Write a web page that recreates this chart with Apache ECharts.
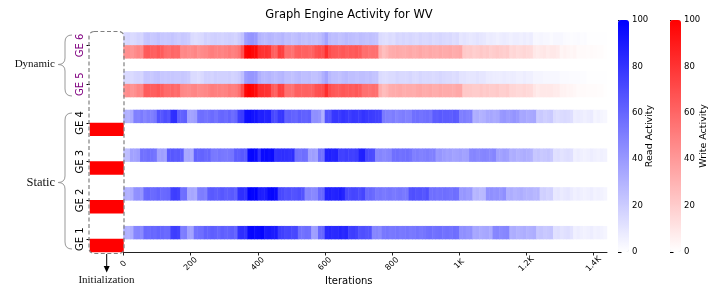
<!DOCTYPE html>
<html>
<head>
	<meta charset="utf-8">
	<title>graph engine activity</title>
	<style>
		html, body, #chart {
			margin: 0;
			padding: 0;
			width: 720px;
			height: 287px;
			background: #fff;
		}
	</style>
	<script src="https://cdn.jsdelivr.net/npm/echarts@6.0.0/dist/echarts.min.js"></script>
</head>
<body>
<div id="chart"></div>
<script>

// heatmap rows, top to bottom: read / write / gap for each GE
var rowNames = ['GE6 R', 'GE6 W', 'g6', 'GE5 R', 'GE5 W', 'g5', 'GE4 R', 'GE4 W', 'g4',
	'GE3 R', 'GE3 W', 'g3', 'GE2 R', 'GE2 W', 'g2', 'GE1 R', 'GE1 W'];

// iteration bins (10 iterations each, 0 .. 1430)
var iterBins = [];
for (var b = 0; b < 144; b++) iterBins.push(b * 10);

var xTicks = [0, 200, 400, 600, 800, 1000, 1200, 1400];
var geNames = ['GE 1', 'GE 2', 'GE 3', 'GE 4', 'GE 5', 'GE 6'];
var geTickPos = [1, 4, 7, 10, 13, 16];
var geColors = ['#000', '#000', '#000', '#000', '#800080', '#800080'];

var ge6Read = [
	15, 16, 14, 15, 17, 16, 22, 23, 21, 22, 24, 22,
	21, 22, 23, 21, 20, 22, 21, 20, 14, 13, 14, 15,
	18, 17, 18, 19, 18, 17, 18, 19, 18, 17, 20, 24,
	38, 41, 42, 40, 30, 28, 27, 29, 28, 26, 27, 29,
	25, 26, 24, 25, 27, 25, 24, 26, 25, 24, 26, 30,
	36, 27, 25, 26, 24, 25, 27, 26, 25, 24, 26, 25,
	24, 25, 24, 23, 14, 13, 12, 14, 13, 16, 15, 16,
	15, 16, 15, 14, 16, 15, 15, 16, 14, 15, 16, 15,
	14, 15, 13, 14, 10, 11, 10, 9, 10, 11, 10, 9,
	7, 8, 7, 6, 7, 8, 7, 6, 7, 7, 6, 7,
	6, 7, 3, 3, 4, 3, 3, 2, 3, 3, 3, 2,
	1.5, 1, 1.5, 2, 1, 1.5, 0.5, 0.5, 0.3, 0.5, 0.3, 0.2
];
var ge6Write = [
	43, 44, 42, 45, 48, 46, 64, 65, 63, 62, 66, 64,
	58, 57, 60, 58, 59, 46, 47, 45, 46, 48, 44, 46,
	47, 50, 51, 49, 50, 48, 50, 52, 49, 51, 55, 68,
	98, 100, 97, 96, 82, 80, 81, 79, 63, 61, 76, 74,
	56, 57, 55, 62, 63, 61, 62, 60, 62, 68, 70, 69,
	82, 70, 66, 65, 64, 66, 63, 65, 64, 66, 64, 56,
	57, 55, 56, 56, 31, 25, 28, 32, 33, 34, 33, 32,
	33, 34, 32, 33, 35, 33, 32, 34, 33, 32, 34, 33,
	33, 34, 32, 33, 34, 21, 20, 21, 19, 20, 22, 20,
	21, 19, 20, 21, 20, 19, 20, 15, 16, 14, 15, 16,
	15, 14, 9, 8, 9, 10, 8, 9, 9, 8, 4, 5,
	4, 3, 4, 2, 2, 2, 1.5, 2, 1.5, 1, 1, 0.5
];
var ge5Read = [
	15, 15, 14, 16, 17, 16, 22, 22, 21, 23, 24, 22,
	21, 22, 22, 21, 21, 22, 21, 20, 14, 14, 13, 15,
	18, 18, 17, 19, 18, 18, 18, 19, 17, 18, 20, 25,
	39, 41, 41, 40, 31, 28, 28, 29, 27, 26, 28, 29,
	25, 25, 24, 26, 27, 25, 25, 26, 24, 24, 26, 31,
	36, 28, 25, 25, 24, 26, 27, 25, 25, 24, 25, 25,
	24, 25, 23, 23, 14, 13, 13, 14, 14, 16, 15, 15,
	15, 16, 14, 14, 16, 15, 15, 15, 14, 15, 16, 15,
	14, 14, 13, 14, 11, 11, 10, 10, 10, 11, 10, 10,
	8, 8, 7, 7, 7, 8, 7, 7, 7, 6, 6, 7,
	6, 6, 4, 4, 4, 3, 3, 3, 3, 3, 2, 2,
	2, 1.5, 1.5, 1.5, 1, 1, 0.5, 0.5, 0.3, 0.3, 0.2, 0.2
];
var ge5Write = [
	43, 45, 42, 44, 48, 47, 64, 64, 63, 63, 66, 63,
	58, 58, 60, 57, 59, 47, 46, 45, 47, 48, 45, 46,
	47, 49, 51, 50, 50, 48, 49, 52, 50, 51, 56, 69,
	97, 100, 98, 95, 82, 81, 80, 79, 64, 61, 75, 74,
	56, 56, 55, 62, 62, 61, 62, 61, 62, 68, 69, 70,
	82, 70, 66, 64, 64, 66, 64, 65, 63, 66, 64, 56,
	56, 55, 57, 56, 31, 26, 28, 32, 33, 33, 34, 32,
	33, 33, 32, 34, 35, 33, 33, 34, 32, 32, 34, 33,
	33, 33, 32, 34, 34, 21, 21, 21, 20, 20, 22, 20,
	21, 20, 20, 21, 19, 19, 20, 16, 16, 15, 15, 16,
	15, 14, 10, 8, 9, 9, 9, 9, 8, 8, 5, 5,
	4, 4, 3, 2, 2, 2, 1.5, 1.5, 1.5, 1, 1, 0.5
];
var ge4Read = [
	31, 30, 33, 50, 49, 52, 48, 51, 50, 53, 68, 66,
	70, 67, 81, 82, 62, 61, 63, 37, 36, 38, 56, 57,
	55, 56, 58, 55, 59, 60, 58, 61, 57, 60, 75, 77,
	94, 95, 93, 92, 87, 88, 86, 87, 72, 70, 78, 79,
	62, 63, 61, 60, 64, 62, 61, 63, 43, 44, 42, 31,
	68, 67, 78, 79, 77, 80, 78, 76, 79, 78, 77, 80,
	78, 77, 76, 75, 74, 52, 50, 49, 51, 48, 50, 51,
	49, 50, 56, 57, 55, 56, 57, 55, 64, 63, 65, 64,
	64, 63, 65, 64, 50, 51, 49, 50, 31, 32, 30, 31,
	34, 35, 33, 34, 40, 41, 39, 40, 42, 40, 34, 35,
	33, 34, 35, 20, 21, 19, 20, 21, 14, 13, 14, 15,
	14, 13, 7, 8, 7, 6, 7, 8, 4, 5, 4, 3
];
var ge3Read = [
	25, 26, 37, 36, 38, 56, 55, 57, 56, 54, 37, 38,
	36, 65, 66, 64, 65, 63, 34, 35, 33, 62, 60, 61,
	59, 60, 53, 52, 54, 53, 52, 53, 54, 64, 63, 65,
	64, 97, 98, 96, 81, 96, 97, 95, 96, 80, 81, 82,
	81, 80, 82, 56, 55, 57, 56, 37, 38, 36, 56, 55,
	87, 88, 86, 87, 75, 74, 76, 75, 74, 76, 87, 88,
	72, 71, 70, 47, 48, 46, 47, 48, 56, 57, 55, 56,
	57, 55, 50, 51, 49, 50, 51, 49, 50, 40, 41, 39,
	37, 38, 36, 37, 38, 36, 37, 47, 48, 46, 47, 48,
	47, 46, 48, 37, 36, 38, 37, 31, 32, 30, 31, 32,
	31, 30, 22, 23, 21, 22, 23, 21, 12, 13, 11, 12,
	13, 12, 6, 7, 6, 5, 6, 7, 6, 5, 6, 5
];
var ge2Read = [
	31, 30, 32, 43, 44, 42, 59, 60, 58, 59, 61, 58,
	59, 60, 75, 76, 74, 56, 57, 34, 35, 33, 50, 51,
	49, 64, 65, 63, 64, 66, 63, 64, 65, 62, 81, 82,
	80, 100, 99, 100, 89, 88, 90, 97, 98, 96, 72, 71,
	68, 69, 67, 68, 70, 67, 47, 48, 46, 47, 59, 60,
	87, 88, 86, 87, 89, 86, 72, 71, 73, 72, 70, 73,
	59, 60, 58, 53, 54, 52, 53, 54, 52, 53, 54, 52,
	53, 68, 69, 67, 68, 66, 69, 56, 57, 55, 56, 57,
	56, 55, 57, 56, 40, 41, 39, 40, 28, 29, 27, 28,
	43, 44, 42, 43, 41, 44, 31, 32, 30, 31, 32, 30,
	29, 30, 28, 29, 18, 19, 17, 18, 9, 10, 8, 9,
	10, 8, 6, 7, 6, 5, 6, 7, 5, 6, 5, 4
];
var ge1Read = [
	31, 30, 32, 47, 48, 46, 59, 58, 60, 59, 61, 60,
	58, 59, 75, 76, 74, 50, 51, 37, 36, 55, 56, 57,
	62, 61, 63, 62, 60, 63, 61, 62, 63, 60, 81, 82,
	80, 97, 98, 96, 97, 98, 90, 91, 89, 90, 76, 75,
	72, 73, 71, 72, 56, 55, 57, 56, 37, 38, 59, 60,
	84, 85, 83, 84, 86, 83, 85, 75, 76, 74, 68, 69,
	67, 68, 47, 48, 46, 53, 54, 52, 53, 54, 52, 53,
	54, 52, 53, 55, 53, 54, 56, 57, 55, 56, 57, 55,
	56, 55, 57, 56, 43, 44, 42, 43, 34, 35, 33, 34,
	35, 33, 47, 48, 46, 47, 48, 31, 32, 30, 31, 32,
	30, 31, 32, 22, 23, 21, 22, 23, 12, 13, 11, 12,
	13, 11, 6, 7, 6, 5, 6, 7, 5, 6, 5, 4
];
// initialization write activity of the static engines (GE4 .. GE1)
var staticInit = [100, 100, 100, 100];

var readRows = [ge6Read, ge5Read, ge4Read, ge3Read, ge2Read, ge1Read];
var readRowIdx = [0, 3, 6, 9, 12, 15];
var writeRows = [ge6Write, ge5Write];
var writeRowIdx = [1, 4];
var initRowIdx = [7, 10, 13, 16];

function cells (rows, rowIdx) {
	var out = [];
	rows.forEach(function (vals, k) {
		vals.forEach(function (v, i) {
			out.push([i, rowIdx[k], v]);
		});
	});
	return out;
}

var initCells = staticInit.map(function (v, k) {
	return [0, initRowIdx[k], v];
});

// curly brace opening to the right: ends at x = 72, tip at x = 58
function brace (top, mid, bottom) {
	var s = { fill: 'none', stroke: '#999', lineWidth: 1 };
	var xe = 72, xs = 65, xt = 58;
	return [
		{ type: 'bezierCurve', z: 100, shape: { x1: xe, y1: top, cpx1: xs, cpy1: top, x2: xs, y2: top + 7 }, style: s },
		{ type: 'line', z: 100, shape: { x1: xs, y1: top + 7, x2: xs, y2: mid - 6.5 }, style: s },
		{ type: 'bezierCurve', z: 100, shape: { x1: xs, y1: mid - 6.5, cpx1: xs, cpy1: mid, x2: xt, y2: mid }, style: s },
		{ type: 'bezierCurve', z: 100, shape: { x1: xt, y1: mid, cpx1: xs, cpy1: mid, x2: xs, y2: mid + 6.5 }, style: s },
		{ type: 'line', z: 100, shape: { x1: xs, y1: mid + 6.5, x2: xs, y2: bottom - 7 }, style: s },
		{ type: 'bezierCurve', z: 100, shape: { x1: xs, y1: bottom - 7, cpx1: xs, cpy1: bottom, x2: xe, y2: bottom }, style: s }
	];
}

var font = 'DejaVu Sans';
var serif = 'Liberation Serif';

var chart = echarts.init(document.getElementById('chart'));

var hidden = { show: false };

chart.setOption({
	animation: false,
	backgroundColor: '#fff',
	title: {
		text: 'Graph Engine Activity for WV',
		left: 344,
		textAlign: 'center',
		top: 4,
		textStyle: { fontFamily: font, fontSize: 11.5, fontWeight: 'normal', color: '#000' }
	},
	grid: [
		{ left: 123.5, top: 32.5, width: 483.5, height: 219.5, containLabel: false, outerBoundsMode: 'none' },
		{ left: 90, top: 32.5, width: 33.5, height: 219.5, containLabel: false, outerBoundsMode: 'none' },
		{ left: 618, top: 20, width: 11, height: 232, containLabel: false, outerBoundsMode: 'none' },
		{ left: 670, top: 20, width: 11, height: 232, containLabel: false, outerBoundsMode: 'none' }
	],
	xAxis: [
		{ type: 'category', gridIndex: 0, data: iterBins, position: 'bottom', show: false },
		{
			type: 'value', gridIndex: 0, min: 0, max: 1440, position: 'bottom',
			name: 'Iterations', nameLocation: 'middle', nameGap: 24, nameMoveOverlap: false,
			nameTextStyle: { fontFamily: font, fontSize: 10, color: '#000', padding: [0, 33, 0, 0] },
			axisLine: { show: true, onZero: false, lineStyle: { color: '#222', width: 1 } },
			axisTick: { show: true, customValues: xTicks, length: 3.5, lineStyle: { color: '#222' } },
			axisLabel: {
				customValues: xTicks, rotate: 45, margin: 12, showMinLabel: true,
				align: 'center', verticalAlign: 'middle',
				fontFamily: font, fontSize: 8, color: '#000',
				formatter: function (v) { return v >= 1000 ? (v / 1000) + 'K' : String(v); }
			},
			splitLine: hidden
		},
		{ type: 'category', gridIndex: 1, data: ['init'], show: false },
		{ type: 'value', gridIndex: 2, show: false },
		{ type: 'value', gridIndex: 3, show: false }
	],
	yAxis: [
		{ type: 'category', gridIndex: 0, data: rowNames, inverse: true, show: false },
		{ type: 'category', gridIndex: 1, data: rowNames, inverse: true, show: false },
		{
			type: 'value', gridIndex: 1, min: 0, max: 17, position: 'left',
			axisLine: hidden,
			splitLine: hidden,
			axisTick: { show: true, customValues: geTickPos, length: 3.5, lineStyle: { color: '#000' } },
			axisLabel: {
				customValues: geTickPos, rotate: 90, margin: 5,
				fontFamily: font, fontSize: 10,
				formatter: function (v) { return geNames[geTickPos.indexOf(v)]; },
				color: function (v) { return geColors[geTickPos.indexOf(+v)]; }
			}
		},
		{
			type: 'value', gridIndex: 2, min: 0, max: 100, interval: 20, position: 'right',
			name: 'Read Activity', nameLocation: 'middle', nameRotate: 90, nameGap: 16, nameMoveOverlap: false,
			nameTextStyle: { fontFamily: font, fontSize: 9.5, color: '#000' },
			axisLine: hidden, splitLine: hidden,
			axisTick: { show: true, length: 3.5, lineStyle: { color: '#000' } },
			axisLabel: { margin: 3, fontFamily: font, fontSize: 8.5, color: '#000' }
		},
		{
			type: 'value', gridIndex: 3, min: 0, max: 100, interval: 20, position: 'right',
			name: 'Write Activity', nameLocation: 'middle', nameRotate: 90, nameGap: 17.5, nameMoveOverlap: false,
			nameTextStyle: { fontFamily: font, fontSize: 9.5, color: '#000' },
			axisLine: hidden, splitLine: hidden,
			axisTick: { show: true, length: 3.5, lineStyle: { color: '#000' } },
			axisLabel: { margin: 3, fontFamily: font, fontSize: 8.5, color: '#000' }
		}
	],
	visualMap: [
		{
			type: 'continuous', seriesIndex: 0, min: 0, max: 100,
			inRange: { color: ['#ffffff', '#0000ff'] },
			left: 618, top: 20, itemWidth: 11, itemHeight: 232,
			calculable: false, padding: 0, hoverLink: false
		},
		{
			type: 'continuous', seriesIndex: [1, 2], min: 0, max: 100,
			inRange: { color: ['#ffffff', '#ff0000'] },
			left: 670, top: 20, itemWidth: 11, itemHeight: 232,
			calculable: false, padding: 0, hoverLink: false
		}
	],
	series: [
		{ type: 'heatmap', name: 'read', xAxisIndex: 0, yAxisIndex: 0, data: cells(readRows, readRowIdx) },
		{ type: 'heatmap', name: 'write', xAxisIndex: 0, yAxisIndex: 0, data: cells(writeRows, writeRowIdx) },
		{ type: 'heatmap', name: 'init', xAxisIndex: 2, yAxisIndex: 1, data: initCells }
	],
	graphic: [
		{
			type: 'rect', z: 100,
			shape: { x: 89, y: 31.5, width: 35, height: 222, r: 5 },
			style: { fill: 'none', stroke: '#808080', lineWidth: 1.2, lineDash: [4, 2.5] }
		},
		{
			type: 'text', z: 100, x: 55, y: 64.5,
			style: { text: 'Dynamic', align: 'right', verticalAlign: 'middle', fontFamily: serif, fontSize: 11, fill: '#111' }
		},
		{
			type: 'text', z: 100, x: 55, y: 182.5,
			style: { text: 'Static', align: 'right', verticalAlign: 'middle', fontFamily: serif, fontSize: 12.5, fill: '#111' }
		},
		{
			type: 'line', z: 100,
			shape: { x1: 106.7, y1: 254, x2: 106.7, y2: 267 },
			style: { stroke: '#000', lineWidth: 1 }
		},
		{
			type: 'polygon', z: 100,
			shape: { points: [[103.7, 266], [109.7, 266], [106.7, 272.5]] },
			style: { fill: '#000' }
		},
		{
			type: 'text', z: 100, x: 106.5, y: 280,
			style: { text: 'Initialization', align: 'center', verticalAlign: 'middle', fontFamily: serif, fontSize: 11, fill: '#111' }
		}
	].concat(brace(35, 64.5, 96), brace(113, 182.5, 249))
});

</script>
</body>
</html>
